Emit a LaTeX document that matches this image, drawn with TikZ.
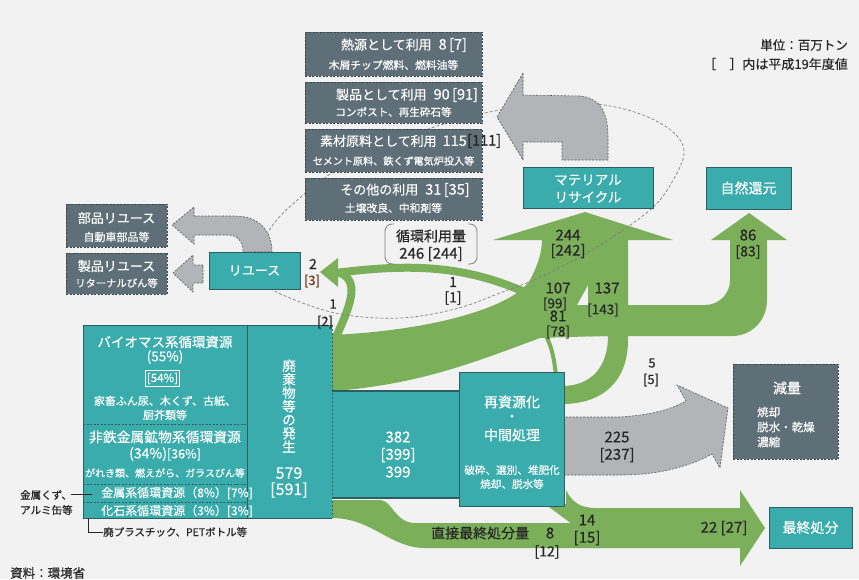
\documentclass[tikz,border=0pt]{standalone}
\usepackage{fontspec}
\setmainfont{Noto Sans CJK JP}[FakeBold=0.4]
\definecolor{bgc}{HTML}{F2F2F2}
\definecolor{tealc}{HTML}{3AACAC}
\definecolor{tealb}{HTML}{2E5E62}
\definecolor{grnc}{HTML}{7CAF5A}
\definecolor{dkc}{HTML}{5F6F77}
\definecolor{dkb}{HTML}{3A464C}
\definecolor{ltc}{HTML}{B2B4B7}
\definecolor{ltb}{HTML}{55595C}
\definecolor{txc}{HTML}{262626}
\definecolor{brc}{HTML}{7A3A20}
\newcommand{\fsz}[1]{\fontsize{#1pt}{#1pt}\selectfont}
\begin{document}
\begin{tikzpicture}[x=1pt,y=-1pt,
  darkbox/.style={fill=dkc, draw=dkb, dash pattern=on 2pt off 1.5pt, line width=0.6pt, inner sep=0pt},
  tealbox/.style={fill=tealc, draw=tealb, line width=0.8pt, inner sep=0pt},
  grayarrow/.style={fill=ltc, draw=ltb, dash pattern=on 2pt off 1.5pt, line width=0.6pt},
  grn/.style={fill=grnc},
  grnline/.style={draw=grnc},
  wt/.style={text=white, inner sep=0pt},
  bk/.style={text=txc, inner sep=0pt},
  ann/.style={draw=txc, line width=0.6pt}]
\useasboundingbox (0,0) rectangle (859,579);
\fill[bgc] (0,0) rectangle (859,579);

% ---------------- green flows ----------------
\draw[grnline, line width=8pt] (336,273) .. controls (420,262) and (470,268) .. (527,293);
\draw[grnline, line width=8pt] (336,337) .. controls (352,302) and (360,280) .. (338,272);
\fill[grn] (320,272) -- (338,258) -- (338,287) -- cycle;
\fill[grn] (332,335) .. controls (440,330) and (515,305) .. (530,280) .. controls (538,265) and (542,252) .. (542,240) -- (588,240) -- (588,285) -- (577,305) -- (600,305) -- (600,336) -- (540,338) .. controls (480,360) and (420,385) .. (332,391) -- cycle;
\fill[grn] (588,240) -- (628,240) -- (628,340) .. controls (628,382) and (602,404) .. (562,404) -- (562,386) .. controls (592,386) and (608,366) .. (608,336) -- (588,336) -- cycle;
\fill[grn] (577,305) -- (705,305) .. controls (719,305) and (730,294) .. (730,280) -- (730,240) -- (767,240) -- (767,300) .. controls (767,320) and (752,336) .. (732,336) -- (577,336) -- cycle;
\fill[grn] (711,240) -- (749,213) -- (787,240) -- cycle;
\fill[grn] (493,240) -- (585,212) -- (673,240) -- cycle;
\draw[grnline, line width=4pt] (556,376) .. controls (554,356) and (551,345) .. (545,334);
\fill[grn] (332,500) -- (380,500) .. controls (392,500) and (395,523) .. (415,523) -- (600,523) -- (600,548) -- (425,548) .. controls (390,548) and (372,518) .. (332,518) -- cycle;
\fill[grn] (593,508) -- (740,508) -- (740,490) -- (765,528) -- (740,566) -- (740,548) -- (593,548) -- cycle;
\fill[grn] (545,504) -- (566,504) -- (566,490) .. controls (572,502) and (580,508) .. (596,508) -- (596,524) -- (572,524) -- cycle;

% ---------------- dashed loop ----------------
\draw[gray, line width=0.7pt, dash pattern=on 3pt off 2pt] plot[smooth cycle, tension=0.6] coordinates {(256,262) (272,226) (302,196) (340,168) (400,140) (450,122) (500,110) (560,102) (620,108) (665,126) (684,150) (672,182) (650,210) (600,245) (545,275) (500,293) (455,309) (400,318) (340,314) (290,298) (262,282)};

% ---------------- gray arrows ----------------
\filldraw[grayarrow] (562,417) -- (620,417) .. controls (650,415) and (670,410) .. (686,401) -- (677,385) -- (728,408) -- (720,468) -- (712,454) .. controls (690,466) and (660,475) .. (620,475) -- (562,475) -- cycle;
\filldraw[grayarrow] (523,73) -- (497,117) -- (523,160) -- (523,142) -- (562,142) -- (562,160) -- (608,160) -- (608,137) .. controls (608,112) and (600,98) .. (580,96) -- (523,95) -- cycle;
\filldraw[grayarrow] (194,216) -- (235,216) .. controls (258,216) and (272,230) .. (272,252) -- (243,252) .. controls (243,242) and (238,235) .. (228,235) -- (194,235) -- (194,244) -- (172,225) -- (194,207) -- cycle;
\filldraw[grayarrow] (203,265) -- (193,265) -- (193,255) -- (173,273) -- (193,292) -- (193,283) -- (203,283) -- cycle;

% ---------------- dark boxes (top) ----------------
\node[darkbox, minimum width=177pt, minimum height=44pt] (b1) at (393.5,54) {};
\node[darkbox, minimum width=177pt, minimum height=41pt] (b2) at (393.5,102.5) {};
\node[darkbox, minimum width=177pt, minimum height=43pt] (b3) at (393.5,150.5) {};
\node[darkbox, minimum width=177pt, minimum height=42pt] (b4) at (393.5,199) {};
\node[wt, font=\fsz{13}] (b1t) at (404,45) {熱源として利用\hspace{7pt}{\fsz{14.5}8\,[7]}};
\node[wt, font=\fsz{10.8}] (b1s) at (393.5,65) {木屑チップ燃料、燃料油等};
\node[wt, font=\fsz{13}] (b2t) at (407,95) {製品として利用\hspace{7pt}{\fsz{14.5}90\,[91]}};
\node[wt, font=\fsz{10.6}] (b2s) at (393.5,112) {コンポスト、再生砕石等};
\node[wt, font=\fsz{13}, anchor=east] (b3t) at (467,141) {素材原料として利用\hspace{6pt}{\fsz{14.5}115}};
\node[bk, font=\fsz{14.5}, anchor=west] (b3n) at (467,141) {[111]};
\node[wt, font=\fsz{10.1}] (b3s) at (393.5,161) {セメント原料、鉄くず電気炉投入等};
\node[wt, font=\fsz{13}] (b4t) at (405,190) {その他の利用\hspace{7pt}{\fsz{14.5}31\,[35]}};
\node[wt, font=\fsz{10.8}] (b4s) at (393.5,208) {土壌改良、中和剤等};

% legend
\node[bk, font=\fsz{12.5}, anchor=east] (unit) at (848,45) {単位：百万トン};
\node[bk, font=\fsz{13}, anchor=east] (unit2) at (848,64) {［　］内は平成19年度値};

% ---------------- teal boxes ----------------
\node[tealbox, minimum width=130pt, minimum height=41pt] (mr) at (588,187.5) {};
\node[wt, font=\fsz{13.5}] (mr1) at (588,180) {マテリアル};
\node[wt, font=\fsz{13.5}] (mr2) at (588,197) {リサイクル};
\node[tealbox, minimum width=85pt, minimum height=42pt, text=white, font=\fsz{14}] (nr) at (748.5,188) {自然還元};
\node[tealbox, minimum width=91pt, minimum height=37pt, text=white, font=\fsz{13}] (reuse) at (254.5,270.5) {リユース};

\node[darkbox, minimum width=101pt, minimum height=43pt] (pr) at (116.5,225.5) {};
\node[wt, font=\fsz{13}] (prt) at (116.5,218) {部品リユース};
\node[wt, font=\fsz{11}] (prs) at (116.5,237) {自動車部品等};
\node[darkbox, minimum width=101pt, minimum height=41pt] (sr) at (116.5,273.5) {};
\node[wt, font=\fsz{13}] (srt) at (116.5,266) {製品リユース};
\node[wt, font=\fsz{10.3}] (srs) at (116.5,283) {リターナルびん等};

% middle flow block
\fill[tealc] (332,391) rectangle (460,498);
\draw[tealb, line width=1.2pt] (332,391) -- (460,391) (332,498) -- (460,498);

% generation block
\node[fill=tealc, minimum width=249pt, minimum height=193pt, inner sep=0pt] (gen) at (207.5,421.5) {};
\draw[tealb, line width=0.8pt] (332,325) -- (83,325) -- (83,518) -- (332,518);
\draw[tealb, line width=0.8pt] (247,325) -- (247,518);
\draw[tealb, line width=0.7pt, dash pattern=on 2pt off 2pt] (332,325) -- (332,518);
\draw[tealb, line width=0.6pt, dash pattern=on 2pt off 1.5pt] (83,424) -- (247,424) (83,484) -- (247,484) (83,502) -- (247,502);

\node[wt, font=\fsz{13.5}] (g1) at (165,342) {バイオマス系循環資源};
\node[wt, font=\fsz{13.5}] (g2) at (165,357) {(55\%)};
\node[wt, font=\fsz{11.5}, draw=white, line width=0.7pt, inner xsep=1.5pt, inner ysep=2.5pt] (g3) at (162.5,378.5) {[54\%]};
\node[wt, font=\fsz{11}] (g4) at (165,401) {家畜ふん尿、木くず、古紙、};
\node[wt, font=\fsz{11}] (g5) at (165,415) {厨芥類等};
\node[wt, font=\fsz{13.8}] (g6) at (165,437) {非鉄金属鉱物系循環資源};
\node[wt, font=\fsz{14}] (g7) at (165,454) {(34\%){\fsz{12.5}[36\%]}};
\node[wt, font=\fsz{10}] (g8) at (165,473) {がれき類、燃えがら、ガラスびん等};
\node[wt, font=\fsz{12}] (g9) at (177,493) {金属系循環資源（8\%）[7\%]};
\node[wt, font=\fsz{12}] (g10) at (177,511) {化石系循環資源（3\%）[3\%]};
\node[wt, font=\fsz{13.5}, align=center, text width=16pt] (gv) at (289,406) {廃\\棄\\物\\等\\の\\発\\生};
\node[wt, font=\fsz{16}] (g579) at (289,473) {579};
\node[wt, font=\fsz{16}] (g591) at (289,490) {[591]};

% middle numbers
\node[wt, font=\fsz{15}] (m1) at (398,437) {382};
\node[wt, font=\fsz{15}] (m2) at (398,455) {[399]};
\node[wt, font=\fsz{15}] (m3) at (398,472) {399};

% recycling / intermediate processing
\node[tealbox, minimum width=105pt, minimum height=134pt] (rp) at (511.5,439) {};
\node[wt, font=\fsz{14}] (rp1) at (512,402) {再資源化};
\node[wt, font=\fsz{14}] (rp2) at (512,418) {・};
\node[wt, font=\fsz{14}] (rp3) at (512,435) {中間処理};
\node[wt, font=\fsz{10.6}] (rp4) at (512,470) {破砕、選別、堆肥化};
\node[wt, font=\fsz{10.6}] (rp5) at (512,484) {焼却、脱水等};

% reduction box
\node[darkbox, minimum width=105pt, minimum height=95pt] (gr) at (785.5,411.5) {};
\node[wt, font=\fsz{14}] (gr1) at (787,388) {減量};
\node[wt, font=\fsz{11.5}, anchor=west] (gr2) at (757,412) {焼却};
\node[wt, font=\fsz{11.5}, anchor=west] (gr3) at (757,427) {脱水・乾燥};
\node[wt, font=\fsz{11.5}, anchor=west] (gr4) at (757,442) {濃縮};

% final disposal
\node[tealbox, minimum width=83pt, minimum height=41pt, text=white, font=\fsz{14}] (fd) at (810.5,527.5) {最終処分};

% ---------------- labels ----------------
\node[bk, font=\fsz{15}] (l244) at (568,235) {244};
\node[bk, font=\fsz{15}] (l242) at (568,251) {[242]};
\node[bk, font=\fsz{15}] (l107) at (558,288) {107};
\node[bk, font=\fsz{13.5}] (l99) at (555,304) {[99]};
\node[bk, font=\fsz{15}] (l81) at (558,316) {81};
\node[bk, font=\fsz{13.5}] (l78) at (558,332) {[78]};
\node[bk, font=\fsz{15}] (l137) at (607,288) {137};
\node[bk, font=\fsz{13.5}] (l143) at (603,310) {[143]};
\node[bk, font=\fsz{15}] (l86) at (748,235) {86};
\node[bk, font=\fsz{14}] (l83) at (748,252) {[83]};
\node[bk, font=\fsz{14}] (l1a) at (453,282) {1};
\node[bk, font=\fsz{14}] (l1b) at (453,298) {[1]};
\node[bk, font=\fsz{14}] (l2a) at (313,264) {2};
\node[text=brc, inner sep=0pt, font=\fsz{13}] (l2b) at (312,281) {[3]};
\node[bk, font=\fsz{13}] (l1c) at (333,304) {1};
\node[bk, font=\fsz{13}] (l1d) at (325,322) {[2]};
\node[bk, font=\fsz{13}] (l5a) at (652,363) {5};
\node[bk, font=\fsz{13}] (l5b) at (651,380) {[5]};
\node[bk, font=\fsz{15}] (l225) at (617,437) {225};
\node[bk, font=\fsz{15}] (l237) at (617,455) {[237]};
\node[bk, font=\fsz{15}] (l14) at (587,520) {14};
\node[bk, font=\fsz{15}] (l15) at (587,538) {[15]};
\node[bk, font=\fsz{14}, anchor=west] (ld) at (431,533) {直接最終処分量};
\node[bk, font=\fsz{15}] (l8) at (550,533) {8};
\node[bk, font=\fsz{14}] (l12) at (547,552) {[12]};
\node[bk, font=\fsz{15}] (l22) at (724,528) {22 [27]};

% circulation amount
\draw[gray, line width=0.8pt, rounded corners=7pt] (394,224) -- (385,224) -- (385,264) -- (394,264);
\draw[gray, line width=0.8pt, rounded corners=7pt] (468,224) -- (477,224) -- (477,264) -- (468,264);
\node[bk, font=\fsz{14}] (cy1) at (431,236) {循環利用量};
\node[bk, font=\fsz{15}] (cy2) at (431,254) {246 [244]};

% left annotations
\node[bk, font=\fsz{10.5}, anchor=west] (a1) at (20,495) {金属くず、};
\node[bk, font=\fsz{10.5}, anchor=west] (a2) at (20,510) {アルミ缶等};
\coordinate (a1e) at (92,494);
\draw[ann] (71,494) -- (a1e);
\node[bk, font=\fsz{10.5}, anchor=west] (a3) at (103,532) {廃プラスチック、PETボトル等};
\draw[ann] (88,518) -- (88,532) -- (a3.west);
\node[bk, font=\fsz{12.5}, anchor=west] (src) at (10,573) {資料：環境省};
\end{tikzpicture}
\end{document}
